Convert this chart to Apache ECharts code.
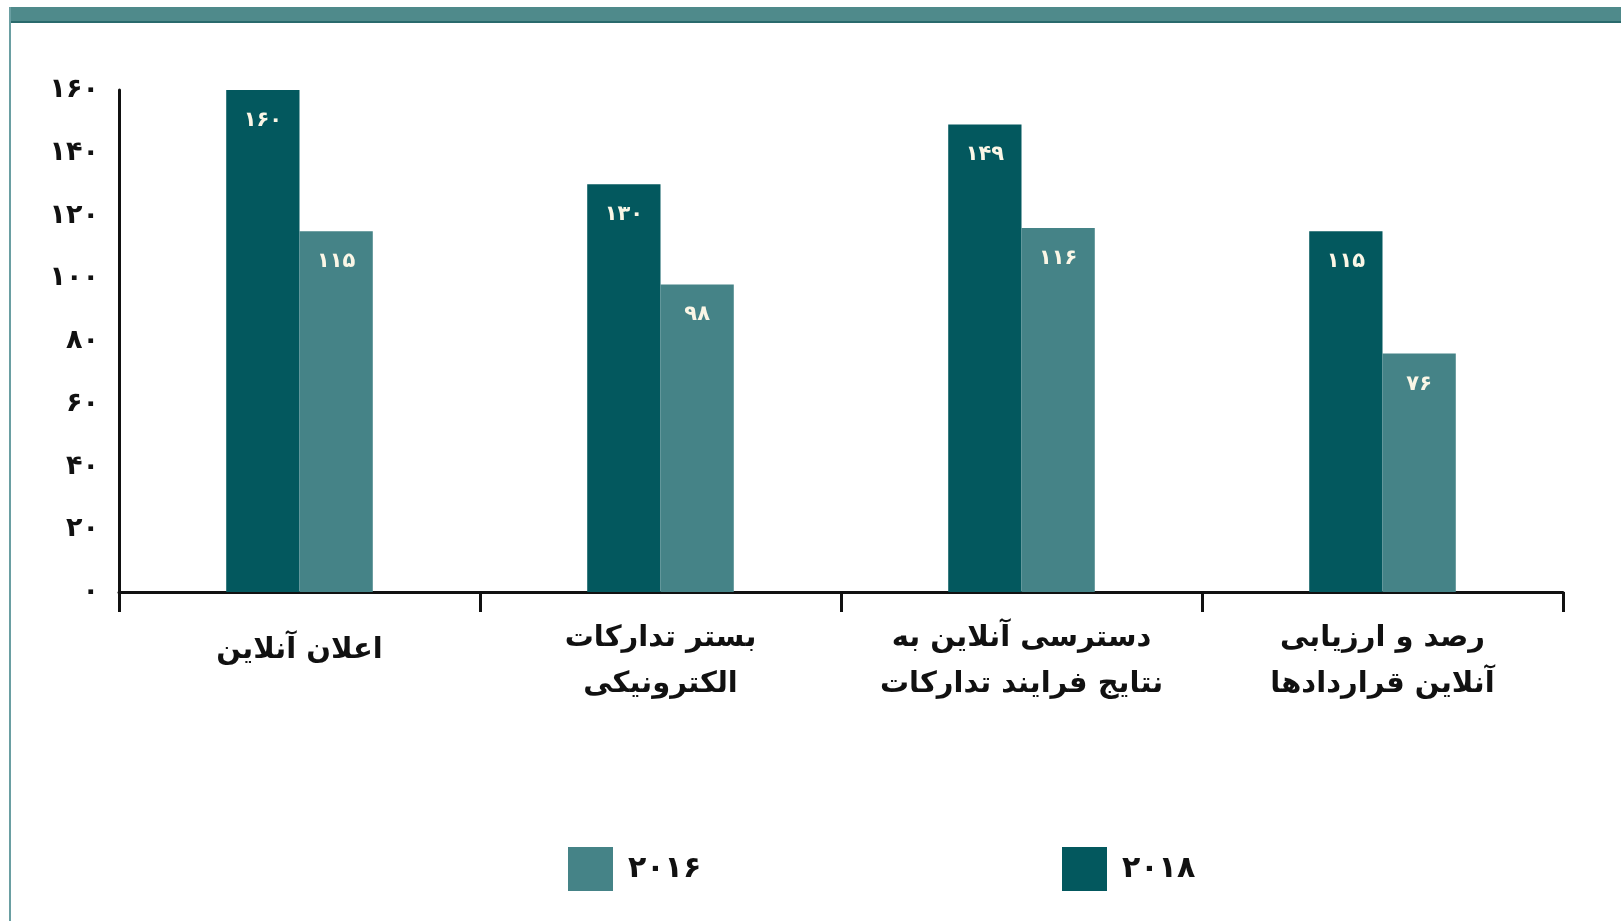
<!DOCTYPE html>
<html>
<head>
<meta charset="utf-8">
<script src="https://cdn.jsdelivr.net/npm/echarts@6/dist/echarts.min.js"></script>
<style>
  html, body { margin: 0; padding: 0; background: #fff; }
  #chart { width: 1621px; height: 921px; }
</style>
</head>
<body>
<div id="chart"></div>
<script>
var categories = ['اعلان آنلاین', 'بستر تدارکات\nالکترونیکی', 'دسترسی آنلاین به\nنتایج فرایند تدارکات', 'رصد و ارزیابی\nآنلاین قراردادها'];
var values2018 = [160, 130, 149, 115];
var values2016 = [115, 98, 116, 76];
var seriesNames = ['2018', '2016'];

var darkColor = '#03585e';
var lightColor = '#458387';
var fontFamily = '"DejaVu Sans", "Noto Sans", sans-serif';

// ارقام فارسی
function toFa(v) {
    return String(v).replace(/[0-9]/g, function (d) { return '۰۱۲۳۴۵۶۷۸۹'[+d]; });
}

var barLabel = {
    show: true,
    position: 'insideTop',
    distance: 20,
    color: '#fbf6e6',
    fontSize: 21,
    fontWeight: 'bold',
    fontFamily: fontFamily,
    formatter: function (p) { return toFa(p.value); }
};

var legendText = {
    fontSize: 30,
    fontWeight: 'bold',
    color: '#111',
    fontFamily: fontFamily,
    padding: [0, 0, 0, 10]
};

// تک‌خطی کمی پایین‌تر از برچسب‌های دوخطی
var categoryData = categories.map(function (c) {
    return c.indexOf('\n') < 0 ? { value: c, textStyle: { padding: [12, 0, 0, 0] } } : c;
});

var option = {
    animation: false,
    backgroundColor: '#fff',
    graphic: [
        { type: 'rect', shape: { x: 9, y: 7, width: 1612, height: 15 }, style: { fill: '#4f8a8b' } },
        { type: 'rect', shape: { x: 9, y: 21, width: 1612, height: 2 }, style: { fill: '#2a6a6c' } },
        { type: 'rect', shape: { x: 9, y: 7, width: 2, height: 914 }, style: { fill: '#6a9fa2' } }
    ],
    legend: [
        {
            data: [toFa(seriesNames[1])],
            left: 563, top: 842,
            icon: 'rect',
            itemWidth: 45, itemHeight: 44,
            textStyle: legendText
        },
        {
            data: [toFa(seriesNames[0])],
            left: 1057, top: 842,
            icon: 'rect',
            itemWidth: 45, itemHeight: 44,
            textStyle: legendText
        }
    ],
    grid: { left: 119, right: 58, top: 90, bottom: 329, containLabel: false },
    xAxis: {
        type: 'category',
        data: categoryData,
        axisLine: { lineStyle: { color: '#111', width: 3 } },
        axisTick: { show: true, length: 20, lineStyle: { color: '#111', width: 3 } },
        axisLabel: {
            interval: 0,
            margin: 23,
            fontSize: 29,
            fontWeight: 'bold',
            lineHeight: 46,
            color: '#111',
            fontFamily: fontFamily
        }
    },
    yAxis: {
        type: 'value',
        min: 0,
        max: 160,
        interval: 20,
        axisLine: { show: true, lineStyle: { color: '#111', width: 3 } },
        axisTick: { show: false },
        splitLine: { show: false },
        axisLabel: {
            margin: 20,
            fontSize: 27,
            fontWeight: 'bold',
            color: '#111',
            fontFamily: fontFamily,
            formatter: function (v) { return toFa(v); }
        }
    },
    series: [
        {
            name: toFa(seriesNames[0]),
            type: 'bar',
            data: values2018,
            barWidth: '20.3%',
            barGap: '0%',
            itemStyle: { color: darkColor },
            label: barLabel
        },
        {
            name: toFa(seriesNames[1]),
            type: 'bar',
            data: values2016,
            barWidth: '20.3%',
            itemStyle: { color: lightColor },
            label: barLabel
        }
    ]
};

var myChart = echarts.init(document.getElementById('chart'));
myChart.setOption(option);
</script>
</body>
</html>
